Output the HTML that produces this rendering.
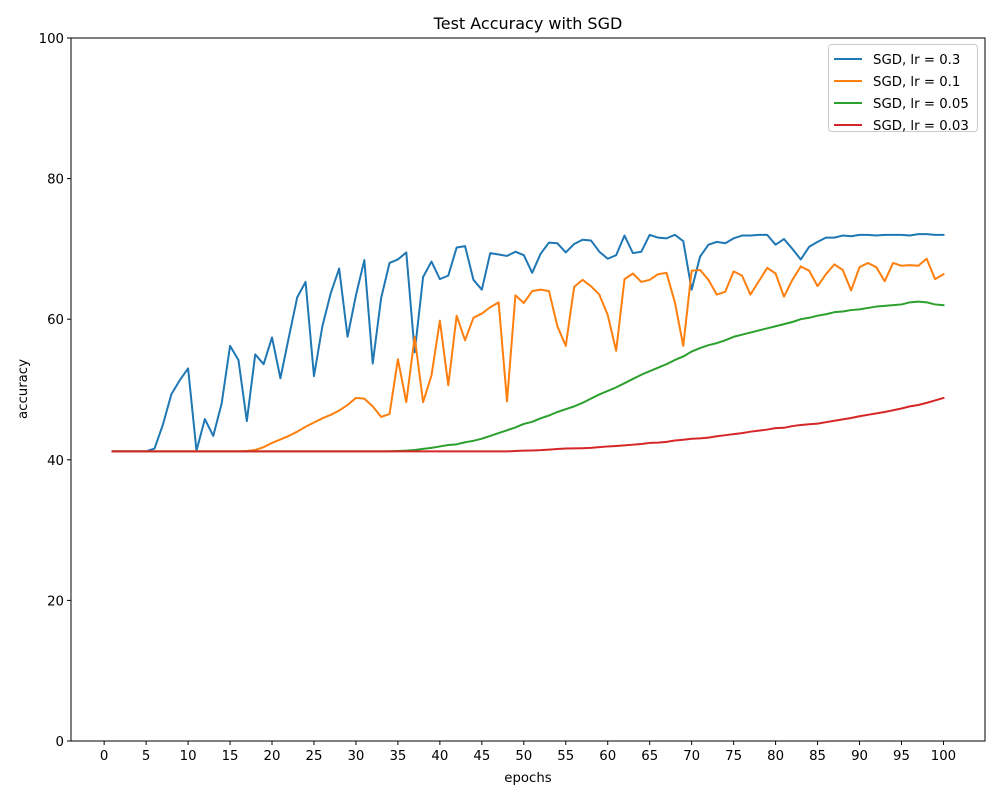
<!DOCTYPE html>
<html><head><meta charset="utf-8"><style>
body{margin:0;background:#fff;}
svg text{font-family:"DejaVu Sans","Liberation Sans",sans-serif;fill:#000;}
</style></head><body>
<svg id="chart" width="1000" height="800" xmlns="http://www.w3.org/2000/svg">
<rect width="1000" height="800" fill="#fff"/>
<text x="528" y="29" font-size="16" text-anchor="middle">Test Accuracy with SGD</text>
<g id="marks"></g>
<g id="axes"></g>
<text x="528" y="782" font-size="13.3" text-anchor="middle">epochs</text>
<text transform="translate(27,389) rotate(-90)" font-size="13.3" text-anchor="middle">accuracy</text>
<g id="legend"></g>
</svg>
<script>
const seriesNames=["SGD, lr = 0.3","SGD, lr = 0.1","SGD, lr = 0.05","SGD, lr = 0.03"];
const colors=["#1f77b4","#ff7f0e","#2ca02c","#d62728"];
const xTicks=[0,5,10,15,20,25,30,35,40,45,50,55,60,65,70,75,80,85,90,95,100];
const yTicks=[0,20,40,60,80,100];
const lr03=[41.2,41.2,41.2,41.2,41.2,41.6,45,49.3,51.3,53,41.3,45.8,43.4,48,56.2,54.2,45.5,55,53.6,57.4,51.6,57.4,63.1,65.3,51.9,59,63.7,67.2,57.5,63.4,68.4,53.7,63,68,68.5,69.5,55.3,66,68.2,65.7,66.2,70.2,70.4,65.6,64.2,69.4,69.2,69,69.6,69.1,66.6,69.3,70.9,70.8,69.5,70.7,71.3,71.2,69.6,68.6,69.1,71.9,69.4,69.6,72,71.6,71.5,72,71.1,64.2,68.9,70.6,71,70.8,71.5,71.9,71.9,72,72,70.6,71.4,70,68.5,70.3,71,71.6,71.6,71.9,71.8,72,72,71.9,72,72,72,71.9,72.1,72.1,72,72];
const lr01=[41.2,41.2,41.2,41.2,41.2,41.2,41.2,41.2,41.2,41.2,41.2,41.2,41.2,41.2,41.2,41.2,41.25,41.4,41.8,42.4,42.9,43.4,44,44.7,45.3,45.9,46.4,47,47.8,48.8,48.7,47.6,46.1,46.5,54.3,48.2,57.5,48.2,52,59.8,50.6,60.5,57,60.2,60.8,61.7,62.4,48.3,63.4,62.3,64,64.2,64,59,56.2,64.6,65.6,64.7,63.5,60.6,55.5,65.7,66.5,65.3,65.6,66.4,66.6,62.4,56.2,66.9,67,65.6,63.5,63.9,66.8,66.2,63.5,65.4,67.3,66.5,63.2,65.6,67.5,66.9,64.7,66.4,67.8,67,64.1,67.4,68,67.4,65.4,68,67.6,67.7,67.6,68.6,65.7,66.4];
const lr005=[41.2,41.2,41.2,41.2,41.2,41.2,41.2,41.2,41.2,41.2,41.2,41.2,41.2,41.2,41.2,41.2,41.2,41.2,41.2,41.2,41.2,41.2,41.2,41.2,41.2,41.2,41.2,41.2,41.2,41.2,41.2,41.2,41.2,41.22,41.25,41.3,41.4,41.55,41.7,41.9,42.1,42.2,42.5,42.7,43,43.4,43.8,44.2,44.6,45.1,45.4,45.9,46.3,46.8,47.2,47.6,48.1,48.7,49.3,49.8,50.3,50.9,51.5,52.1,52.6,53.1,53.6,54.2,54.7,55.4,55.9,56.3,56.6,57,57.5,57.8,58.1,58.4,58.7,59,59.3,59.6,60,60.2,60.5,60.7,61,61.1,61.3,61.4,61.6,61.8,61.9,62,62.1,62.4,62.5,62.4,62.1,62];
const lr003=[41.2,41.2,41.2,41.2,41.2,41.2,41.2,41.2,41.2,41.2,41.2,41.2,41.2,41.2,41.2,41.2,41.2,41.2,41.2,41.2,41.2,41.2,41.2,41.2,41.2,41.2,41.2,41.2,41.2,41.2,41.2,41.2,41.2,41.2,41.2,41.2,41.2,41.2,41.2,41.2,41.2,41.2,41.2,41.2,41.2,41.2,41.2,41.2,41.25,41.3,41.33,41.37,41.45,41.53,41.6,41.62,41.65,41.7,41.8,41.9,41.97,42.05,42.15,42.25,42.4,42.45,42.55,42.75,42.85,43,43.05,43.15,43.35,43.5,43.65,43.8,44,44.15,44.3,44.5,44.55,44.8,44.95,45.05,45.15,45.35,45.55,45.75,45.95,46.2,46.4,46.6,46.8,47.05,47.3,47.6,47.8,48.1,48.45,48.8];
const allSeries=[lr03,lr01,lr005,lr003];
const epochs=lr03.map((_,i)=>i+1);

const X0=71,X1=985,Y0=741,Y1=38;
const xMin=-3.95,xMax=104.95,yMin=0,yMax=100;
function xs(v){return X0+(v-xMin)/(xMax-xMin)*(X1-X0);}
function ys(v){return Y0-(v-yMin)/(yMax-yMin)*(Y0-Y1);}
const NS="http://www.w3.org/2000/svg";
function mk(tag,attrs,parent){const e=document.createElementNS(NS,tag);for(const k in attrs)e.setAttribute(k,attrs[k]);parent.appendChild(e);return e;}

const marks=document.getElementById('marks');
allSeries.forEach((s,si)=>{
  const d=s.map((v,i)=>(i?'L':'M')+xs(epochs[i]).toFixed(2)+','+ys(v).toFixed(2)).join('');
  const p=mk('path',{d:d,fill:'none',stroke:colors[si],'stroke-width':2,'stroke-linejoin':'round','stroke-linecap':'square'},marks);
  
  
});

const axes=document.getElementById('axes');
const frame=mk('rect',{x:X0,y:Y1,width:X1-X0,height:Y0-Y1,fill:'none',stroke:'#000','stroke-width':1},axes);


xTicks.forEach(t=>{
  const x=xs(t);
  mk('line',{x1:x,x2:x,y1:Y0,y2:Y0+4,stroke:'#000'},axes);
  const tx=mk('text',{x:x,y:Y0+19,'font-size':13.3,'text-anchor':'middle'},axes);
  tx.textContent=t;
  
  
});
yTicks.forEach(t=>{
  const y=ys(t);
  mk('line',{x1:X0-4,x2:X0,y1:y,y2:y,stroke:'#000'},axes);
  const tx=mk('text',{x:X0-7,y:y+5,'font-size':13.3,'text-anchor':'end'},axes);
  tx.textContent=t;
  
  
});

const lg=document.getElementById('legend');
mk('rect',{x:828.5,y:44.5,width:149,height:87,rx:3,fill:'#fff','fill-opacity':0.8,stroke:'#ccc'},lg);
seriesNames.forEach((n,i)=>{
  const y=59+i*22;
  const ln=mk('line',{x1:834,x2:862,y1:y,y2:y,stroke:colors[i],'stroke-width':2},lg);
  
  
  const t=mk('text',{x:873,y:y+5,'font-size':13.3},lg);
  t.textContent=n;
  
  
});
</script>
</body></html>
